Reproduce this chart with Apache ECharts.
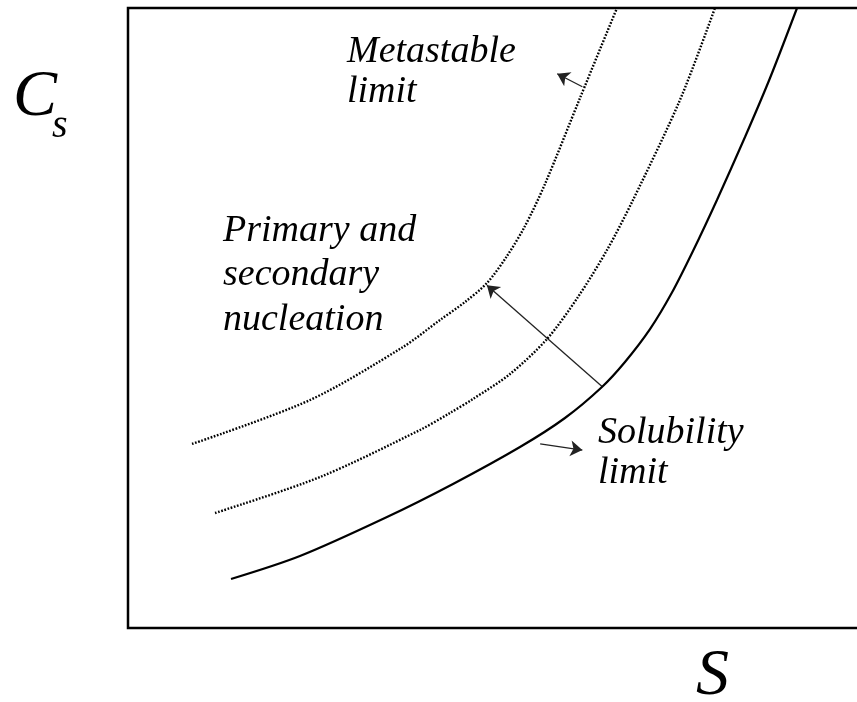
<!DOCTYPE html>
<html>
<head>
<meta charset="utf-8">
<script src="https://cdn.jsdelivr.net/npm/echarts@6/dist/echarts.min.js"></script>
<style>html,body{margin:0;padding:0;background:#fff}#c{width:857px;height:702px}</style>
</head>
<body>
<div id="c"></div>
<script>
// Solid solubility curve (S, Cs) in arbitrary units 0-100
const solubilityLimit = [
  [13.92, 7.90], [23.24, 11.61], [35.00, 17.90], [43.92, 23.23], [52.97, 29.19],
  [59.05, 33.87], [64.05, 38.87], [67.16, 42.90], [70.54, 48.20], [73.51, 54.10],
  [76.35, 60.80], [79.59, 69.03], [83.38, 79.19], [86.76, 88.71], [90.41, 100]
];
// Inner dotted curve (secondary nucleation limit)
const innerLimit = [
  [11.76, 18.55], [25.95, 24.35], [39.46, 31.94], [43.51, 34.68], [46.62, 36.94],
  [51.62, 40.97], [56.62, 46.61], [60.81, 53.39], [64.73, 60.97], [68.24, 69.03],
  [74.59, 85.16], [79.32, 100]
];
// Outer dotted curve (metastable limit)
const metastableLimit = [
  [8.65, 29.68], [24.59, 36.77], [37.16, 45.32], [42.16, 49.68], [45.54, 52.58],
  [48.51, 55.65], [51.22, 60.00], [53.65, 64.84], [56.35, 71.61], [61.08, 85.48],
  [66.08, 100]
];
// Arrows: [from, to]
const arrows = [
  [[61.4, 87.3], [58.0, 89.4]],
  [[64.1, 38.9], [48.5, 55.3]],
  [[55.7, 29.7], [61.4, 28.7]]
];
const labelTexts = {
  metastable: ['Metastable', 'limit'],
  nucleation: ['Primary and', 'secondary', 'nucleation'],
  solubility: ['Solubility', 'limit'],
  yName: 'C', ySub: 's', xName: 'S'
};

const chart = echarts.init(document.getElementById('c'), null, {renderer: 'canvas'});
const FONT = '"Liberation Serif", "Times New Roman", serif';
function txt(text, x, y, size) {
  return {
    type: 'text', left: x, top: y,
    style: {text: text, fontFamily: FONT, fontStyle: 'italic', fontSize: size, fill: '#000'}
  };
}
const g = [];
labelTexts.metastable.forEach((t, i) => g.push(txt(t, 347, 33 + i * 40, 38)));
labelTexts.nucleation.forEach((t, i) => g.push(txt(t, 223, 212 + i * 44.5, 38)));
labelTexts.solubility.forEach((t, i) => g.push(txt(t, 598, 414 + i * 40, 38)));
g.push(txt(labelTexts.yName, 13, 65, 66));
g.push(txt(labelTexts.ySub, 52, 106, 40));
g.push(txt(labelTexts.xName, 696, 644, 66));

chart.setOption({
  animation: false,
  backgroundColor: '#fff',
  grid: {left: 128, top: 8, width: 740, height: 620, show: true, borderColor: '#000', borderWidth: 2.5,
    outerBoundsMode: 'none', containLabel: false},
  xAxis: {type: 'value', min: 0, max: 100, show: false},
  yAxis: {type: 'value', min: 0, max: 100, show: false},
  graphic: g,
  series: [
    {type: 'line', data: solubilityLimit, smooth: 0.3, symbol: 'none',
      lineStyle: {color: '#000', width: 2.2}},
    {type: 'line', data: innerLimit, smooth: 0.3, symbol: 'none',
      lineStyle: {color: '#000', width: 2.4, type: [1.7, 1.6]}},
    {type: 'line', data: metastableLimit, smooth: 0.3, symbol: 'none',
      lineStyle: {color: '#000', width: 2.4, type: [1.7, 1.6]}},
    {type: 'lines', coordinateSystem: 'cartesian2d', symbol: ['none', 'arrow'], symbolSize: 12,
      lineStyle: {color: '#222', width: 1.3, opacity: 1},
      data: arrows.map(a => ({coords: a}))}
  ]
});
</script>
</body>
</html>
